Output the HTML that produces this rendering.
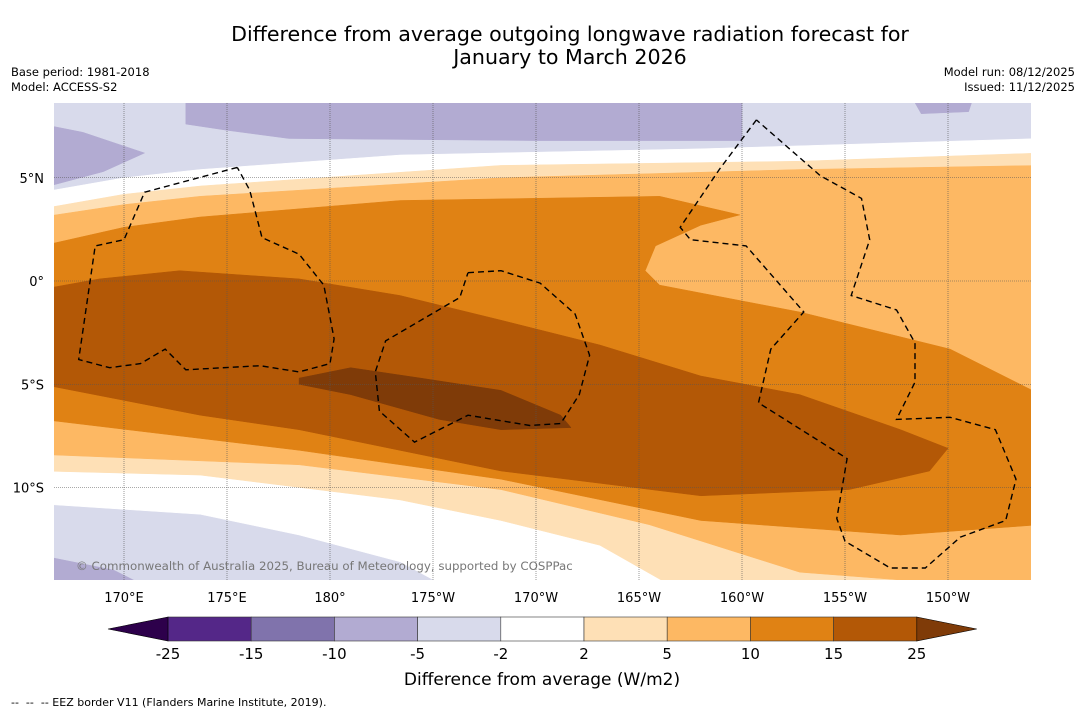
<!DOCTYPE html>
<html><head><meta charset="utf-8">
<style>
body{margin:0;background:#fff;width:1085px;height:713px;overflow:hidden;font-family:"DejaVu Sans","Liberation Sans",sans-serif;}
svg text{font-family:"DejaVu Sans","Liberation Sans",sans-serif;}
</style></head>
<body>
<svg id="chart" width="1085" height="713" viewBox="0 0 1085 713" xmlns="http://www.w3.org/2000/svg">
<text x="570" y="41" font-size="20.6" text-anchor="middle">Difference from average outgoing longwave radiation forecast for</text>
<text x="570" y="64" font-size="20.6" text-anchor="middle">January to March 2026</text>
<text x="11" y="76" font-size="11.5">Base period: 1981-2018</text>
<text x="11" y="91" font-size="11.5">Model: ACCESS-S2</text>
<text x="1075" y="76" font-size="11.5" text-anchor="end">Model run: 08/12/2025</text>
<text x="1075" y="91" font-size="11.5" text-anchor="end">Issued: 11/12/2025</text>
<defs><clipPath id="mapclip"><rect x="54" y="103" width="977" height="477"/></clipPath></defs>
<g id="map" clip-path="url(#mapclip)"></g>
<g id="axes"></g>
<g id="cbar"></g>
<text x="542" y="685" font-size="17" text-anchor="middle">Difference from average (W/m2)</text>
<text x="11" y="706" font-size="11" xml:space="preserve">--  --  -- EEZ border V11 (Flanders Marine Institute, 2019).</text>
</svg>
<script>
// axis domain
const lonTicks=[170,175,180,185,190,195,200,205,210];
const lonTickLabels=["170°E","175°E","180°","175°W","170°W","165°W","160°W","155°W","150°W"];
const latTicks=[5,0,-5,-10];
const latTickLabels=["5°N","0°","5°S","10°S"];
// contour regions [lon(0-360), lat]
const bgColor="#d8daeb";
const regionPurpleTop=[[173,8.8],[173,7.6],[175,7.3],[178,6.9],[190,6.8],[200,6.8],[200,8.8]];
const regionPurpleLeft=[[166,7.6],[168,7.2],[171,6.2],[169,5.3],[166,4.5]];
const regionPurpleTopRight=[[208.3,8.8],[208.7,8.1],[211,8.2],[211.2,8.8]];
const regionPurpleBottomLeft=[[166,-13.3],[169.5,-14.0],[171.5,-15],[166,-15]];
const regionWhite=[[166,4.3],[170,5.0],[173.7,5.4],[183.4,6.1],[198,6.4],[214.5,6.9],[214.5,-15],[186,-15],[183.4,-13.6],[178.5,-12.3],[173.7,-11.3],[166,-10.8]];
const region2=[[166,3.5],[170,4.2],[173.7,4.6],[188.3,5.6],[202.8,5.8],[214.5,6.2],[214.5,-15],[197,-15],[193.1,-12.8],[188.3,-11.6],[183.4,-10.6],[173.7,-9.4],[166,-9.2]];
const region5=[[166,3.1],[170,3.7],[173.7,4.1],[188.3,5.0],[202.8,5.4],[214.5,5.6],[214.5,-15],[202.8,-14.1],[195.5,-11.8],[188.3,-10.1],[178.5,-8.9],[166,-8.4]];
const region10=[[166,1.7],[170,2.6],[173.7,3.1],[183.4,3.9],[196,4.1],[199.9,3.2],[198,2.7],[195.8,1.7],[195.3,0.5],[196,-0.2],[202.8,-1.5],[210.1,-3.3],[214.5,-5.5],[214.5,-11.8],[207.7,-12.3],[198,-11.6],[188.3,-9.6],[178.5,-8.2],[166,-6.7]];
const region15=[[166,-0.4],[168.8,0.1],[172.7,0.5],[178.5,0.1],[183.4,-0.7],[188.3,-1.9],[193.1,-3.1],[198,-4.6],[202.8,-5.5],[207.7,-7.2],[210,-8.1],[209.1,-9.2],[205.2,-10.1],[198,-10.4],[188.3,-9.2],[178.5,-7.2],[173.7,-6.5],[166,-5.0]];
const region25=[[178.5,-4.7],[181,-4.2],[184.4,-4.7],[188.3,-5.3],[191.2,-6.5],[191.7,-7.1],[188.3,-7.2],[185.3,-6.7],[181,-5.5],[178.5,-5.0]];
const eezA=[[175.5,5.5],[171.0,4.3],[170.0,2.0],[168.6,1.7],[167.8,-3.8],[169.3,-4.2],[170.8,-4.0],[172.0,-3.3],[173.0,-4.3],[176.6,-4.1],[178.5,-4.4],[180,-4.0],[180.2,-2.8],[179.7,-0.2],[178.5,1.3],[176.7,2.1],[176.1,4.4],[175.5,5.5]];
const eezB=[[186.7,0.4],[188.3,0.5],[190.2,-0.1],[191.9,-1.6],[192.6,-3.6],[192.1,-5.5],[191.2,-6.9],[189.7,-7.0],[186.7,-6.5],[184.1,-7.8],[182.4,-6.3],[182.2,-4.4],[182.7,-2.9],[186.3,-0.8],[186.7,0.4]];
const eezC=[[200.7,7.8],[198.9,5.4],[197.0,2.6],[197.5,2.0],[200.2,1.7],[203.0,-1.5],[201.4,-3.3],[200.8,-5.9],[205.1,-8.6],[204.6,-11.5],[205.0,-12.6],[207.2,-13.9],[208.9,-13.9],[210.6,-12.4],[212.8,-11.6],[213.3,-9.6],[212.3,-7.2],[210.1,-6.6],[207.5,-6.7],[208.4,-4.9],[208.4,-3.0],[207.5,-1.4],[205.3,-0.7],[206.2,2.0],[205.8,4.0],[203.8,5.1],[200.7,7.8]];
// colorbar
const cbLevels=[-25,-15,-10,-5,-2,2,5,10,15,25];
const cbColors=["#542788","#8073ac","#b2abd2","#d8daeb","#ffffff","#fee0b6","#fdb863","#e08214","#b35806"];
const cbLow="#2d004b", cbHigh="#7f3b08";

const NS="http://www.w3.org/2000/svg";
const X0=54,X1=1031,Y0=103,Y1=580;
function xScale(lon){return 124+(lon-170)*20.6;}
function yScale(lat){return 281-lat*20.65;}
function mk(tag,attrs,parent){const e=document.createElementNS(NS,tag);for(const k in attrs)e.setAttribute(k,attrs[k]);parent.appendChild(e);return e;}
function pts(arr){return arr.map(p=>xScale(p[0]).toFixed(1)+","+yScale(p[1]).toFixed(1)).join(" ");}
const map=document.getElementById("map");
let r=mk("rect",{x:X0,y:Y0,width:X1-X0,height:Y1-Y0,fill:bgColor},map);


const layers=[[regionPurpleTop,"#b2abd2","band-minus10-top"],[regionPurpleLeft,"#b2abd2","band-minus10-left"],[regionPurpleTopRight,"#b2abd2","band-minus10-topright"],[regionPurpleBottomLeft,"#b2abd2","band-minus10-bottomleft"],[regionWhite,"#ffffff","band-neutral"],[region2,"#fee0b6","band-2-5"],[region5,"#fdb863","band-5-10"],[region10,"#e08214","band-10-15"],[region15,"#b35806","band-15-25"],[region25,"#7f3b08","band-over-25"]];
layers.forEach(L=>{
  const p=mk("polygon",{points:pts(L[0]),fill:L[1],stroke:L[1],"stroke-width":0.5},map);
  
  
});
lonTicks.forEach(l=>{const g=mk("line",{x1:xScale(l),x2:xScale(l),y1:Y0,y2:Y1,stroke:"#555","stroke-width":0.6,"stroke-dasharray":"1,1"},map);
  
  });
latTicks.forEach(l=>{const g=mk("line",{x1:X0,x2:X1,y1:yScale(l),y2:yScale(l),stroke:"#555","stroke-width":0.6,"stroke-dasharray":"1,1"},map);
  
  });
[eezA,eezB,eezC].forEach(e=>{
  const p=mk("polyline",{points:pts(e),fill:"none",stroke:"#000","stroke-width":1.4,"stroke-dasharray":"6,4"},map);
  
  
});
const cp=mk("text",{x:76,y:570,"font-size":11.8,fill:"#777"},map);


cp.textContent="© Commonwealth of Australia 2025, Bureau of Meteorology, supported by COSPPac";
const axes=document.getElementById("axes");
lonTicks.forEach((l,i)=>{const t=mk("text",{x:xScale(l),y:602,"font-size":13,"text-anchor":"middle"},axes);
  
  
  t.textContent=lonTickLabels[i];});
latTicks.forEach((l,i)=>{const t=mk("text",{x:44,y:yScale(l)+5,"font-size":13,"text-anchor":"end"},axes);
  
  
  t.textContent=latTickLabels[i];});
const cb=document.getElementById("cbar");
const cbX=168,cbW=83.2,cbY=617,cbH=24;
cbColors.forEach((c,i)=>{const s=mk("rect",{x:cbX+i*cbW,y:cbY,width:cbW,height:cbH,fill:c,stroke:"#333","stroke-width":0.6},cb);
  
  });
const endX=cbX+cbColors.length*cbW;
let tl=mk("polygon",{points:`${cbX},${cbY} ${cbX-60},${cbY+cbH/2} ${cbX},${cbY+cbH}`,fill:cbLow,stroke:"#000","stroke-width":0.6},cb);


let th=mk("polygon",{points:`${endX},${cbY} ${endX+60},${cbY+cbH/2} ${endX},${cbY+cbH}`,fill:cbHigh,stroke:"#000","stroke-width":0.6},cb);


cbLevels.forEach((v,i)=>{const t=mk("text",{x:cbX+i*cbW,y:659,"font-size":15,"text-anchor":"middle"},cb);
  
  
  t.textContent=String(v);});
</script>
</body></html>
